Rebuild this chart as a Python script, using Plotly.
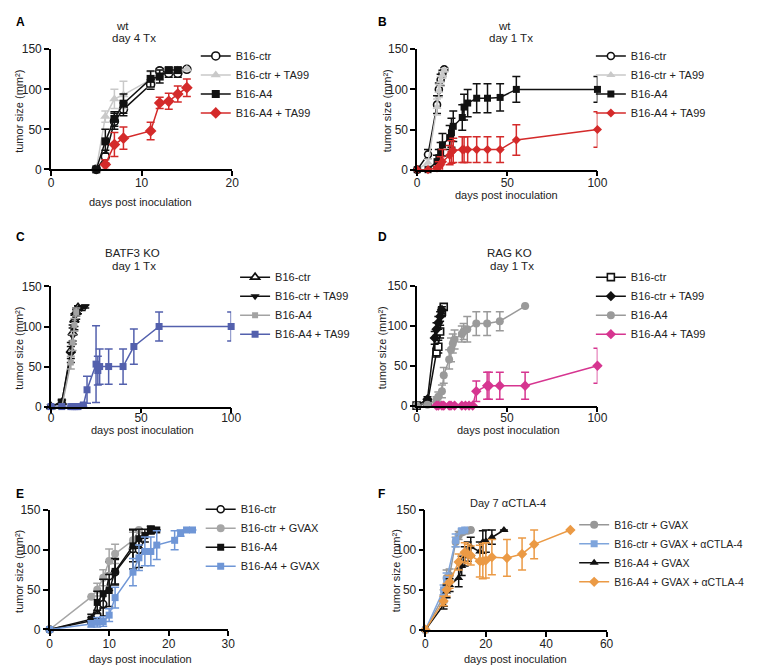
import plotly.graph_objects as go

W, H = 757, 665
FONT = "Liberation Sans, Arial, sans-serif"

# ---------------- data ----------------
# Panel A  (wt, day 4 Tx)
A_ctr_x = [5, 6, 7, 8, 11, 12, 13, 14, 15]
A_ctr_y = [0, 16, 60, 75, 106, 123, 120, 120, 125]
A_ctr_e = [0, 8, 10, 8, 6, 3, 5, 5, 2]
A_ctrTA_x = [5, 6, 7, 8, 11, 12, 13, 14, 15]
A_ctrTA_y = [0, 66, 88, 93, 112, 118, 123, 124, 125]
A_ctrTA_e = [0, 7, 12, 17, 10, 6, 3, 2, 0]
A_a4_x = [5, 6, 7, 8, 11, 12, 13, 14]
A_a4_y = [0, 35, 63, 82, 113, 116, 124, 124]
A_a4_e = [0, 15, 9, 12, 10, 8, 3, 3]
A_a4TA_x = [6, 7, 8, 11, 12, 13, 14, 15]
A_a4TA_y = [6, 31, 39, 48, 83, 85, 94, 102]
A_a4TA_e = [6, 15, 14, 11, 7, 10, 10, 11]

# Panel B  (wt, day 1 Tx)
B_ctr_x = [0, 6, 11, 12, 13, 14, 15]
B_ctr_y = [0, 19, 81, 100, 112, 120, 125]
B_ctr_e = [0, 6, 11, 8, 7, 4, 2]
B_ctrTA_x = [0, 6, 11, 12, 13, 14, 15]
B_ctrTA_y = [0, 9, 78, 98, 110, 118, 124]
B_ctrTA_e = [0, 4, 10, 8, 6, 4, 2]
B_a4_x = [0, 6, 11, 12, 13, 14, 18, 19, 20, 25, 26, 28, 33, 39, 46, 55, 100]
B_a4_y = [0, 0, 10, 15, 22, 31, 40, 46, 54, 65, 78, 83, 89, 89, 90, 100, 100]
B_a4_e = [0, 0, 8, 10, 12, 14, 15, 18, 19, 16, 16, 17, 18, 18, 17, 16, 16]
B_a4TA_x = [0, 6, 11, 12, 13, 14, 18, 19, 20, 25, 26, 28, 33, 39, 46, 55, 100]
B_a4TA_y = [0, 0, 2, 4, 6, 10, 18, 22, 24, 25, 25, 25, 25, 25, 25, 37, 50]
B_a4TA_e = [0, 0, 2, 6, 10, 15, 12, 14, 15, 16, 16, 16, 16, 16, 16, 19, 22]

# Panel C  (BATF3 KO, day 1 Tx)
C_ctr_x = [0, 6, 11, 12, 13, 14, 15]
C_ctr_y = [0, 5, 70, 92, 108, 118, 124]
C_ctr_e = [0, 2, 10, 10, 8, 5, 2]
C_ctrTA_x = [0, 6, 11, 12, 13, 14, 15, 17, 19]
C_ctrTA_y = [0, 6, 65, 88, 105, 115, 120, 123, 125]
C_ctrTA_e = [0, 3, 10, 10, 9, 6, 4, 3, 2]
C_a4_x = [0, 6, 11, 12, 13, 14]
C_a4_y = [0, 0, 55, 80, 102, 118]
C_a4_e = [0, 0, 8, 10, 8, 5]
C_a4TA_x = [0, 6, 11, 12, 13, 14, 15, 18, 20, 25, 26, 27, 32, 40, 46, 60, 100]
C_a4TA_y = [0, 0, 0, 0, 0, 0, 0, 2, 21, 53, 45, 50, 50, 50, 75, 100, 100]
C_a4TA_e = [0, 0, 0, 0, 0, 0, 0, 2, 17, 48, 18, 22, 22, 22, 22, 18, 18]

# Panel D  (RAG KO, day 1 Tx)
D_ctr_x = [0, 6, 11, 12, 13, 14, 15]
D_ctr_y = [0, 3, 67, 74, 93, 118, 124]
D_ctr_e = [0, 2, 6, 8, 8, 6, 2]
D_ctrTA_x = [0, 6, 10, 11, 12, 13, 14]
D_ctrTA_y = [0, 8, 85, 96, 104, 112, 120]
D_ctrTA_e = [0, 3, 8, 8, 8, 6, 4]
D_a4_x = [0, 6, 11, 12, 14, 15, 18, 19, 20, 21, 25, 26, 28, 33, 39, 46, 60]
D_a4_y = [0, 1, 7, 11, 18, 38, 58, 70, 78, 83, 90, 93, 96, 103, 103, 106, 125]
D_a4_e = [0, 1, 4, 6, 8, 10, 12, 15, 12, 12, 10, 10, 16, 15, 15, 12, 0]
D_a4TA_x = [11, 12, 14, 15, 18, 19, 21, 25, 27, 29, 31, 33, 39, 40, 46, 60, 100]
D_a4TA_y = [0, 0, 0, 0, 0, 0, 0, 0, 0, 0, 0, 18, 25, 25, 25, 25, 50]
D_a4TA_e = [0, 0, 0, 0, 0, 0, 0, 0, 0, 0, 0, 13, 17, 17, 17, 17, 22]

# Panel E  (GVAX)
E_ctr_x = [0, 7, 8, 9, 10, 11, 14, 15, 17]
E_ctr_y = [0, 11, 18, 32, 67, 72, 101, 100, 125]
E_ctr_e = [0, 4, 6, 15, 18, 16, 25, 22, 5]
E_ctrG_x = [0, 7, 8, 9, 10, 11, 14, 15]
E_ctrG_y = [0, 41, 50, 65, 86, 95, 112, 125]
E_ctrG_e = [0, 0, 8, 10, 15, 12, 10, 0]
E_a4_x = [0, 7, 8, 9, 10, 11, 14, 15, 16, 17, 18]
E_a4_y = [0, 13, 34, 45, 49, 73, 105, 114, 118, 125, 125]
E_a4_e = [0, 6, 14, 18, 20, 16, 20, 12, 8, 4, 0]
E_a4G_x = [0, 7, 8, 9, 10, 11, 14, 15, 16, 17, 18, 21, 22, 23, 24]
E_a4G_y = [0, 7, 9, 10, 18, 40, 72, 90, 98, 98, 106, 112, 121, 125, 125]
E_a4G_e = [0, 4, 6, 6, 8, 13, 17, 16, 18, 18, 18, 12, 4, 0, 0]

# Panel F  (Day 7 aCTLA-4)
F_ctrG_x = [0, 6, 7, 8, 10, 11, 12, 13, 14, 15]
F_ctrG_y = [0, 42, 65, 68, 110, 118, 122, 124, 124, 125]
F_ctrG_e = [0, 8, 10, 8, 6, 5, 3, 2, 2, 0]
F_ctrGC_x = [0, 6, 7, 10, 12, 13]
F_ctrGC_y = [0, 50, 63, 112, 124, 125]
F_ctrGC_e = [0, 6, 8, 8, 3, 0]
F_a4G_x = [0, 6, 7, 8, 11, 12, 13, 14, 15, 18, 19, 20, 22, 26]
F_a4G_y = [0, 31, 48, 56, 65, 80, 92, 98, 104, 98, 110, 111, 116, 125]
F_a4G_e = [0, 5, 8, 8, 11, 12, 12, 12, 12, 12, 14, 14, 9, 0]
F_a4GC_x = [0, 6, 7, 8, 11, 13, 14, 15, 18, 19, 20, 22, 27, 32, 36, 48]
F_a4GC_y = [0, 36, 50, 60, 85, 97, 95, 93, 86, 86, 87, 91, 90, 95, 107, 125]
F_a4GC_e = [0, 6, 8, 8, 10, 12, 12, 12, 20, 22, 22, 22, 23, 20, 18, 0]

Y_TICKS = [0, 50, 100, 150]
A_XTICKS = [0, 10, 20]
B_XTICKS = [0, 50, 100]
C_XTICKS = [0, 50, 100]
D_XTICKS = [0, 50, 100]
E_XTICKS = [0, 10, 20, 30]
F_XTICKS = [0, 20, 40, 60]

NAMES_TA = ["B16-ctr", "B16-ctr + TA99", "B16-A4", "B16-A4 + TA99"]
NAMES_E = ["B16-ctr", "B16-ctr + GVAX", "B16-A4", "B16-A4 + GVAX"]
NAMES_F = ["B16-ctr + GVAX", "B16-ctr + GVAX + \u03b1CTLA-4", "B16-A4 + GVAX",
           "B16-A4 + GVAX + \u03b1CTLA-4"]

# ---------------- helpers ----------------
def PX(x):
    return x / W


def PY(y):
    return 1 - y / H


fig = go.Figure()

# panel geometry in pixels: (x0, x1, ytop, ybottom), x range max, ticks, label standoff
panels = [
    ("", (40.7, 225.0, 35.0, 157.7), 20, A_XTICKS, -4),
    ("2", (413.3, 596.7, 35.0, 158.0), 100, B_XTICKS, -4),
    ("3", (40.7, 224.0, 277.3, 400.0), 100, C_XTICKS, -6),
    ("4", (412.7, 596.7, 277.0, 399.0), 100, D_XTICKS, -5),
    ("5", (39.3, 221.0, 505.7, 627.7), 30, E_XTICKS, -3),
    ("6", (421.7, 606.0, 505.7, 628.0), 60, F_XTICKS, -3),
]

layout_axes = {}
for suf, (x0, x1, yt, yb), xmax, xt, so in panels:
    common = dict(showline=True, linecolor="black", linewidth=1.6, ticks="outside",
                  ticklen=5, tickwidth=1.5, tickcolor="black", showgrid=False,
                  zeroline=False, tickfont=dict(family=FONT, size=12, color="#222"),
                  fixedrange=True)
    layout_axes["xaxis" + suf] = dict(common, domain=[PX(x0), PX(x1)], range=[0, xmax],
                                      tickvals=xt, anchor="y" + suf,
                                      ticklabelstandoff=so)
    layout_axes["yaxis" + suf] = dict(common, domain=[PY(yb), PY(yt)], range=[0, 150],
                                      tickvals=Y_TICKS, anchor="x" + suf)


def add(suf, name, xs, ys, es, symbol, color, size, open_=False, lw=1.5):
    errs = [e if e > 0 else None for e in es]
    if open_:
        marker = dict(symbol=symbol, size=size, color="white",
                      line=dict(color=color, width=1.6))
    else:
        marker = dict(symbol=symbol, size=size, color=color, line=dict(width=0))
    fig.add_trace(go.Scatter(
        x=xs, y=ys, name=name, mode="lines+markers",
        xaxis="x" + suf, yaxis="y" + suf,
        line=dict(color=color, width=lw),
        marker=marker,
        error_y=dict(type="data", array=errs, symmetric=True, color=color,
                     thickness=1.5, width=4),
        cliponaxis=False,
        legend="legend" + suf if suf else "legend",
    ))


BLACK = "#111111"
# A
add("", NAMES_TA[0], A_ctr_x, A_ctr_y, A_ctr_e, "circle", BLACK, 8, open_=True)
add("", NAMES_TA[1], A_ctrTA_x, A_ctrTA_y, A_ctrTA_e, "triangle-up", "#c9c9c9", 9)
add("", NAMES_TA[2], A_a4_x, A_a4_y, A_a4_e, "square", BLACK, 8)
add("", NAMES_TA[3], A_a4TA_x, A_a4TA_y, A_a4TA_e, "diamond", "#d42a2a", 9)
# B
add("2", NAMES_TA[0], B_ctr_x, B_ctr_y, B_ctr_e, "circle", BLACK, 7, open_=True)
add("2", NAMES_TA[1], B_ctrTA_x, B_ctrTA_y, B_ctrTA_e, "triangle-up", "#c9c9c9", 8)
add("2", NAMES_TA[2], B_a4_x, B_a4_y, B_a4_e, "square", BLACK, 7)
add("2", NAMES_TA[3], B_a4TA_x, B_a4TA_y, B_a4TA_e, "diamond", "#d42a2a", 7)
# C
add("3", NAMES_TA[0], C_ctr_x, C_ctr_y, C_ctr_e, "triangle-up", BLACK, 8, open_=True)
add("3", NAMES_TA[1], C_ctrTA_x, C_ctrTA_y, C_ctrTA_e, "triangle-down", BLACK, 8)
add("3", NAMES_TA[2], C_a4_x, C_a4_y, C_a4_e, "square", "#a3a3a3", 6)
add("3", NAMES_TA[3], C_a4TA_x, C_a4TA_y, C_a4TA_e, "square", "#5360ad", 7)
# D
add("4", NAMES_TA[0], D_ctr_x, D_ctr_y, D_ctr_e, "square", BLACK, 7, open_=True)
add("4", NAMES_TA[1], D_ctrTA_x, D_ctrTA_y, D_ctrTA_e, "diamond", BLACK, 8)
add("4", NAMES_TA[2], D_a4_x, D_a4_y, D_a4_e, "circle", "#9a9a9a", 8)
add("4", NAMES_TA[3], D_a4TA_x, D_a4TA_y, D_a4TA_e, "diamond", "#d63590", 8)
# E
add("5", NAMES_E[0], E_ctr_x, E_ctr_y, E_ctr_e, "circle", BLACK, 7, open_=True)
add("5", NAMES_E[1], E_ctrG_x, E_ctrG_y, E_ctrG_e, "circle", "#a6a6a6", 8)
add("5", NAMES_E[2], E_a4_x, E_a4_y, E_a4_e, "square", BLACK, 7)
add("5", NAMES_E[3], E_a4G_x, E_a4G_y, E_a4G_e, "square", "#6f96d6", 7)
# F
add("6", NAMES_F[0], F_ctrG_x, F_ctrG_y, F_ctrG_e, "circle", "#979797", 8)
add("6", NAMES_F[1], F_ctrGC_x, F_ctrGC_y, F_ctrGC_e, "square", "#7fa5dc", 7)
add("6", NAMES_F[2], F_a4G_x, F_a4G_y, F_a4G_e, "triangle-up", BLACK, 8)
add("6", NAMES_F[3], F_a4GC_x, F_a4GC_y, F_a4GC_e, "diamond", "#eb9a45", 8)

# legends: (suffix, text start x px, first row y px, font size)
legend_pos = [("", 228, 37, 11), ("2", 630, 37, 11), ("3", 268, 263, 11),
              ("4", 630, 263, 11), ("5", 233, 500, 11), ("6", 613, 516, 10.5)]
legends = {}
for suf, tx, ry, fs in legend_pos:
    legends["legend" + suf if suf else "legend"] = dict(
        x=PX(tx - 40), y=PY(ry - 10), xanchor="left", yanchor="top",
        bgcolor="rgba(0,0,0,0)", font=dict(family=FONT, size=fs, color="#222"),
        itemwidth=30, tracegroupgap=0, traceorder="normal")

ann = []


def text(x, y, s, size=11, bold=False, angle=0, xanchor="center"):
    ann.append(dict(x=PX(x), y=PY(y), xref="paper", yref="paper", text=s,
                    showarrow=False, textangle=angle, xanchor=xanchor, yanchor="middle",
                    borderpad=0,
                    font=dict(family=FONT, size=size, color="#222" if not bold else "#000"),
                    ))


# panel letters
for lab, (lx, ly) in zip("ABCDEF", [(4, 7), (372, 7), (4, 227), (372, 227), (4, 489), (372, 489)]):
    text(lx, ly, "<b>%s</b>" % lab, size=12, bold=True, xanchor="left")

# titles
text(113, 11, "wt", size=11.5)
text(125, 24, "day 4 Tx", size=11.5)
text(502, 11, "wt", size=11.5)
text(509, 24, "day 1 Tx", size=11.5)
text(124, 243, "BATF3 KO", size=11.5)
text(125, 256, "day 1 Tx", size=11.5)
text(507, 243, "RAG KO", size=11.5)
text(510, 256, "day 1 Tx", size=11.5)
text(506, 499, "Day 7 \u03b1CTLA-4", size=11)

# axis titles
YT = "tumor size (mm\u00b2)"
for (x, y) in [(8, 98), (383, 98), (8, 340), (377, 340), (8, 568), (392, 568)]:
    text(x, y, YT, angle=-90)
XT = "days post inoculation"
for (x, y) in [(132, 191), (504, 184), (134, 424), (506, 424), (132, 658), (513, 658)]:
    text(x, y, XT)

fig.update_layout(
    width=W, height=H, margin=dict(l=0, r=0, t=0, b=0),
    paper_bgcolor="white", plot_bgcolor="white",
    font=dict(family=FONT, size=11, color="#222"),
    annotations=ann, showlegend=True,
    **layout_axes, **legends,
)

fig.write_html("out.html")
